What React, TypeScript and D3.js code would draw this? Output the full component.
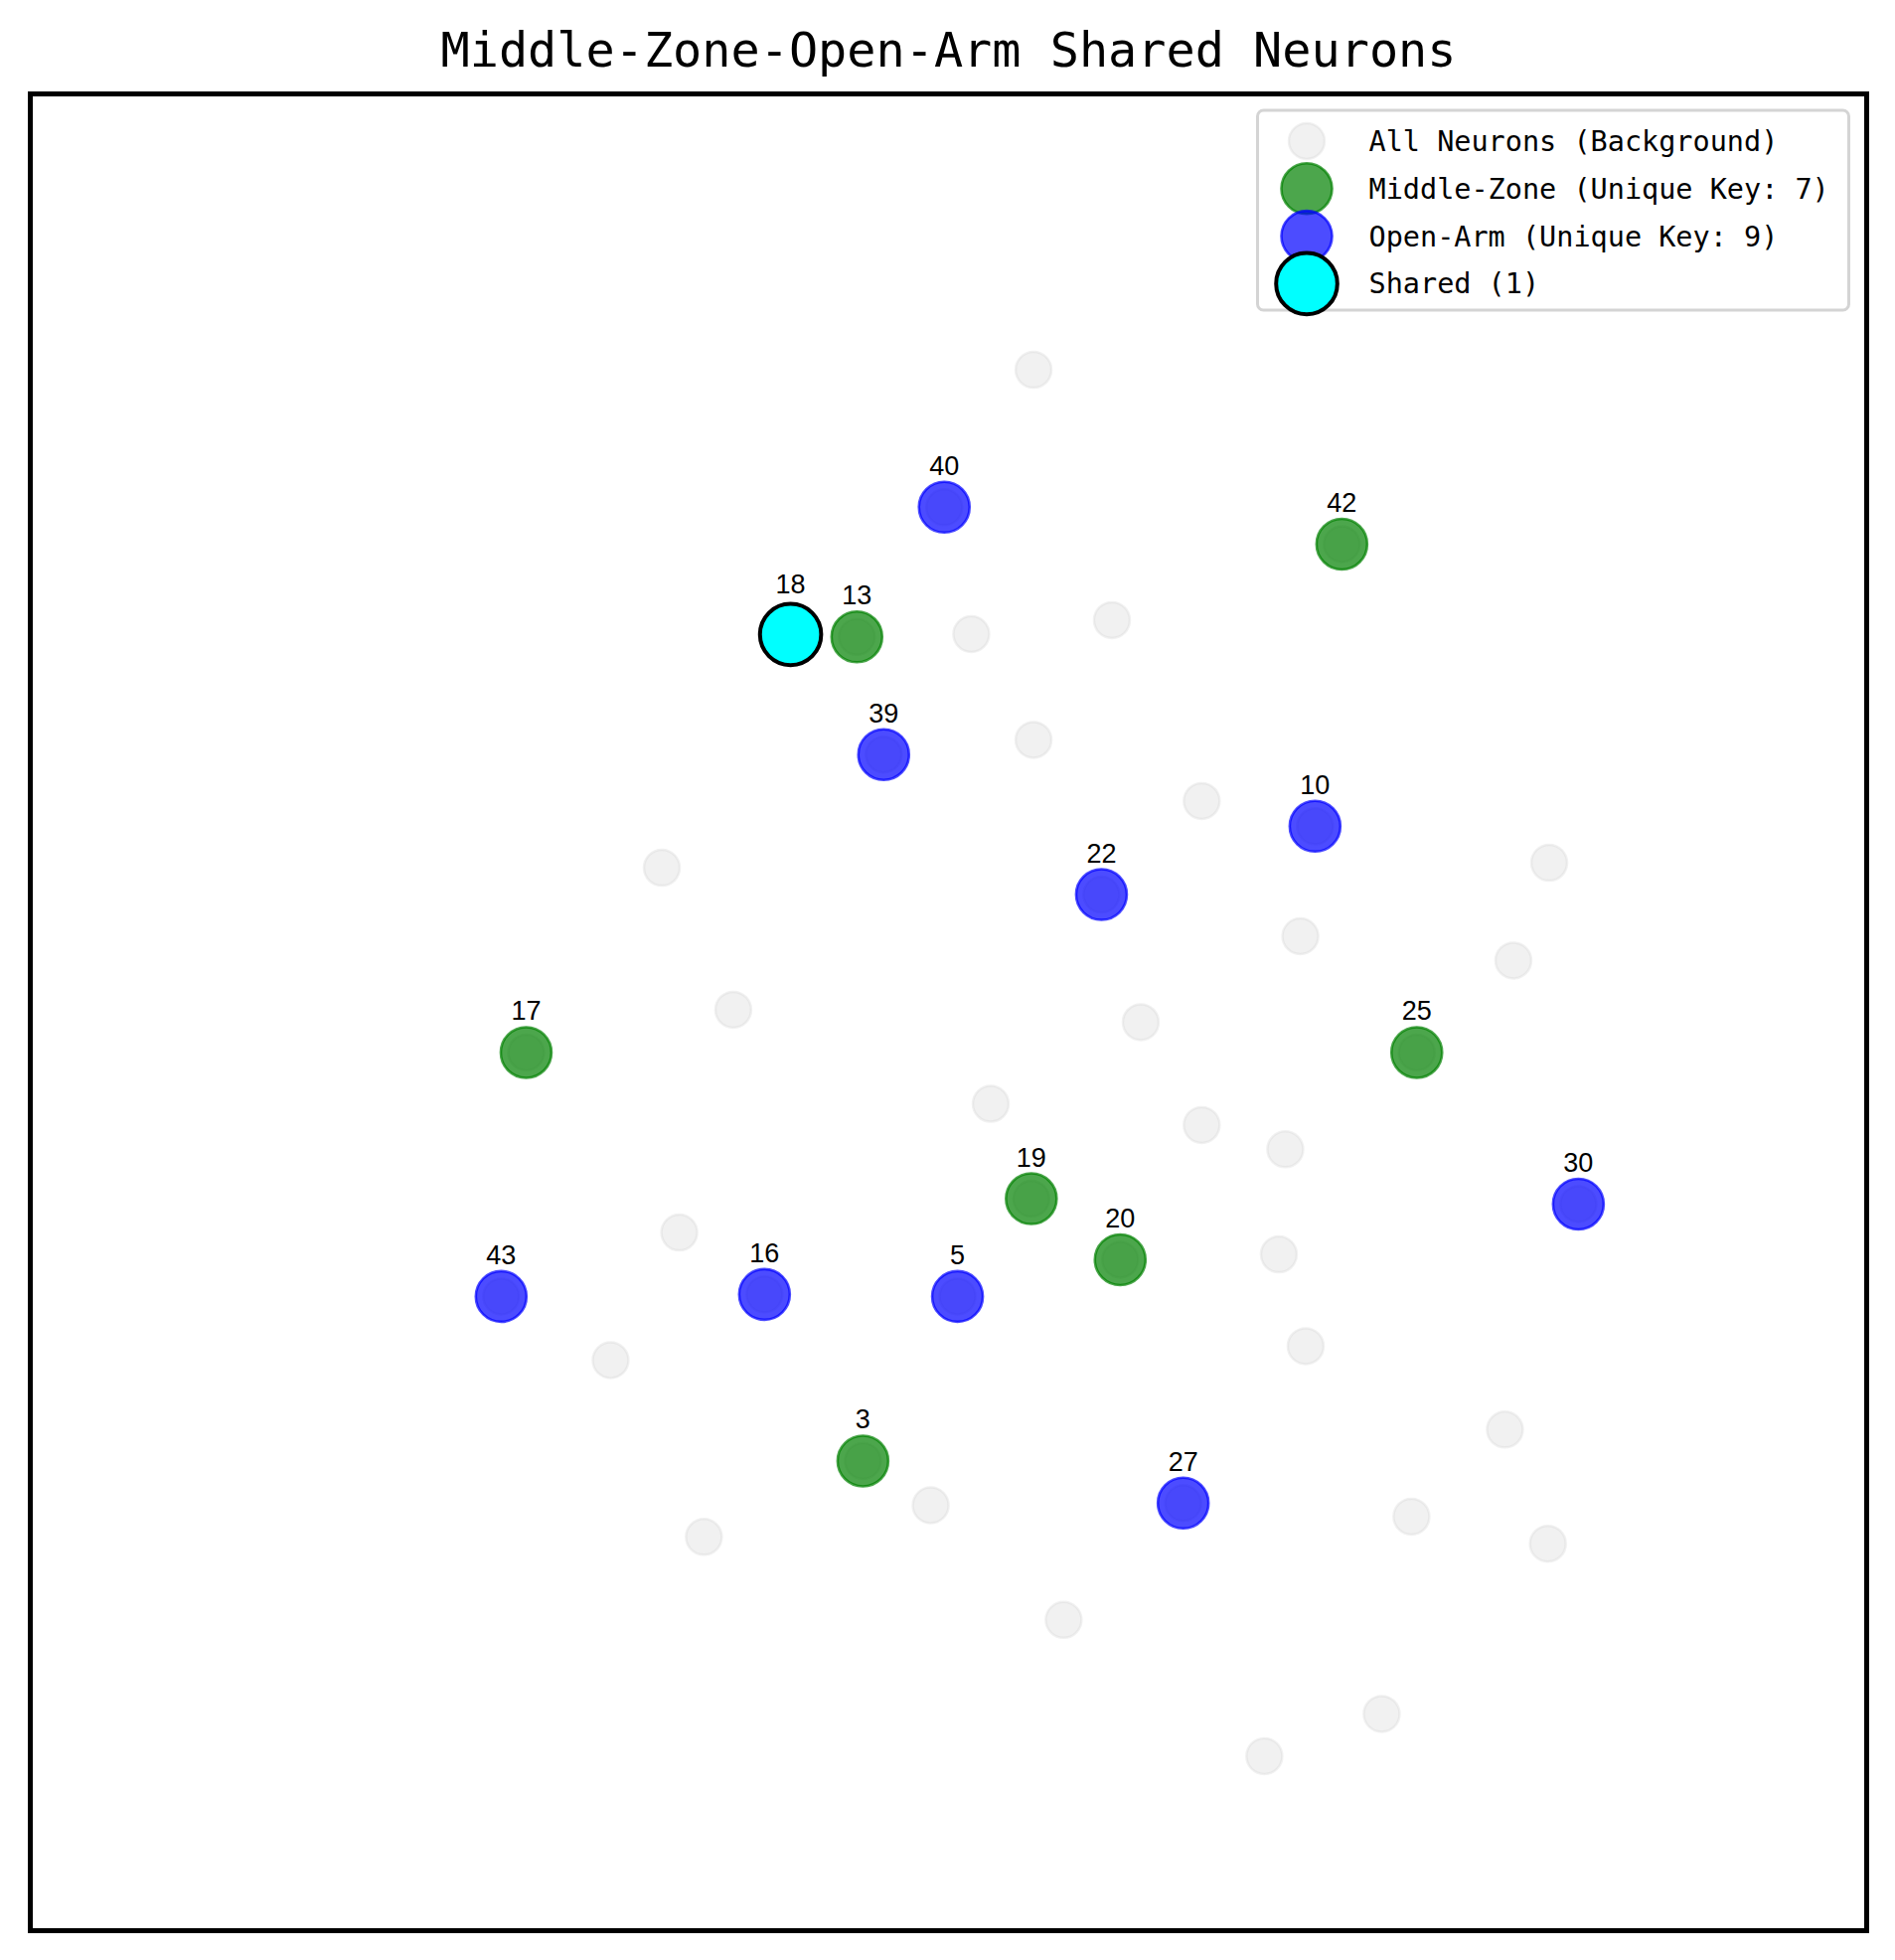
import React from 'react';
import * as d3 from 'd3';

const W = 1907;
const H = 1972;

const title = 'Middle-Zone-Open-Arm Shared Neurons';

// neurons that belong to neither group (embedding coords, 0-100)
const backgroundOnly: [number, number][] = [
  [54.63, 84.98], [51.24, 70.59], [58.9, 71.35], [54.63, 64.83], [63.79, 61.5],
  [34.39, 57.87], [82.71, 58.14], [69.16, 54.14], [80.76, 52.82], [38.28, 50.14],
  [60.47, 49.46], [52.3, 45.02], [63.79, 43.86], [68.34, 42.54], [35.34, 38.01],
  [67.99, 36.82], [69.45, 31.82], [31.6, 31.06], [80.3, 27.28], [49.03, 23.16],
  [36.68, 21.44], [75.21, 22.54], [82.64, 21.07], [56.27, 16.92], [73.59, 11.8],
  [67.2, 9.5],
];

const middleZone = [
  { id: 13, x: 45.01, y: 70.44 },
  { id: 42, x: 71.42, y: 75.49 },
  { id: 17, x: 27.0, y: 47.81 },
  { id: 25, x: 75.5, y: 47.81 },
  { id: 19, x: 54.51, y: 39.85 },
  { id: 20, x: 59.35, y: 36.53 },
  { id: 3, x: 45.34, y: 25.57 },
];

const openArm = [
  { id: 40, x: 49.77, y: 77.5 },
  { id: 39, x: 46.47, y: 64.03 },
  { id: 10, x: 69.96, y: 60.13 },
  { id: 22, x: 58.33, y: 56.41 },
  { id: 30, x: 84.3, y: 39.56 },
  { id: 43, x: 25.64, y: 34.53 },
  { id: 16, x: 39.98, y: 34.64 },
  { id: 5, x: 50.49, y: 34.53 },
  { id: 27, x: 62.78, y: 23.28 },
];

const shared = [{ id: 18, x: 41.4, y: 70.57 }];

const legendLabels = [
  'All Neurons (Background)',
  `Middle-Zone (Unique Key: ${middleZone.length})`,
  `Open-Arm (Unique Key: ${openArm.length})`,
  `Shared (${shared.length})`,
];

const box = { left: 30.5, top: 94.5, right: 1878.5, bottom: 1942.5 };

const bgStyle = { r: 18, fill: '#d3d3d3', op: 0.32, sw: 2.5, stroke: '#d3d3d3' };
const greenStyle = { r: 25.5, fill: 'green', op: 0.7, sw: 2.6, stroke: 'green' };
const blueStyle = { r: 25.5, fill: 'blue', op: 0.7, sw: 2.6, stroke: 'blue' };
const sharedStyle = { r: 30.8, fill: 'cyan', op: 1, sw: 4, stroke: 'black' };

const monoFont = '"DejaVu Sans Mono", monospace';
const labelFont = '"Liberation Sans", Arial, sans-serif';

function Dot({ cx, cy, s }: { cx: number; cy: number; s: typeof bgStyle }) {
  return (
    <circle
      cx={cx}
      cy={cy}
      r={s.r}
      fill={s.fill}
      fillOpacity={s.op}
      stroke={s.stroke}
      strokeOpacity={s.op}
      strokeWidth={s.sw}
    />
  );
}

export default function App() {
  const x = d3.scaleLinear().domain([0, 100]).range([box.left, box.right]);
  const y = d3.scaleLinear().domain([0, 100]).range([box.bottom, box.top]);

  const allPoints: [number, number][] = [
    ...backgroundOnly,
    ...middleZone.map(d => [d.x, d.y] as [number, number]),
    ...openArm.map(d => [d.x, d.y] as [number, number]),
    ...shared.map(d => [d.x, d.y] as [number, number]),
  ];

  const legendStyles = [bgStyle, greenStyle, blueStyle, sharedStyle];
  const legend = { left: 1265.5, top: 111, width: 595, height: 201, markerX: 1315, textX: 1377.5, row0: 142, step: 47.8 };

  return (
    <div style={{ position: 'absolute', left: 0, top: 0 }}>
      <svg width={W} height={H} style={{ display: 'block', background: '#fff' }}>
        <text
          x={(box.left + box.right) / 2}
          y={67}
          textAnchor="middle"
          fontFamily={monoFont}
          fontSize={48.5}
          fill="#000"
        >
          {title}
        </text>

        {allPoints.map((p, i) => (
          <Dot key={`bg-${i}`} cx={x(p[0])} cy={y(p[1])} s={bgStyle} />
        ))}
        {middleZone.map(d => (
          <Dot key={`mz-${d.id}`} cx={x(d.x)} cy={y(d.y)} s={greenStyle} />
        ))}
        {openArm.map(d => (
          <Dot key={`oa-${d.id}`} cx={x(d.x)} cy={y(d.y)} s={blueStyle} />
        ))}
        {shared.map(d => (
          <Dot key={`sh-${d.id}`} cx={x(d.x)} cy={y(d.y)} s={sharedStyle} />
        ))}

        {[...middleZone, ...openArm].map(d => (
          <text
            key={`lab-${d.id}`}
            x={x(d.x)}
            y={y(d.y) - 32.5}
            textAnchor="middle"
            fontFamily={labelFont}
            fontSize={27}
            fill="#000"
          >
            {d.id}
          </text>
        ))}
        {shared.map(d => (
          <text
            key={`slab-${d.id}`}
            x={x(d.x)}
            y={y(d.y) - 41.5}
            textAnchor="middle"
            fontFamily={labelFont}
            fontSize={27}
            fill="#000"
          >
            {d.id}
          </text>
        ))}

        {/* axes frame */}
        <rect
          x={box.left}
          y={box.top}
          width={box.right - box.left}
          height={box.bottom - box.top}
          fill="none"
          stroke="#000"
          strokeWidth={5}
        />

        {/* legend */}
        <rect
          x={legend.left}
          y={legend.top}
          width={legend.width}
          height={legend.height}
          rx={6}
          fill="#fff"
          fillOpacity={0.8}
          stroke="#d4d4d4"
          strokeWidth={3}
        />
        {legendLabels.map((lab, i) => {
          const cy = legend.row0 + i * legend.step;
          return (
            <g key={`leg-${i}`}>
              <Dot cx={legend.markerX} cy={cy} s={legendStyles[i]} />
              <text
                x={legend.textX}
                y={cy + 10}
                fontFamily={monoFont}
                fontSize={28.5}
                fill="#000"
              >
                {lab}
              </text>
            </g>
          );
        })}
      </svg>
    </div>
  );
}
